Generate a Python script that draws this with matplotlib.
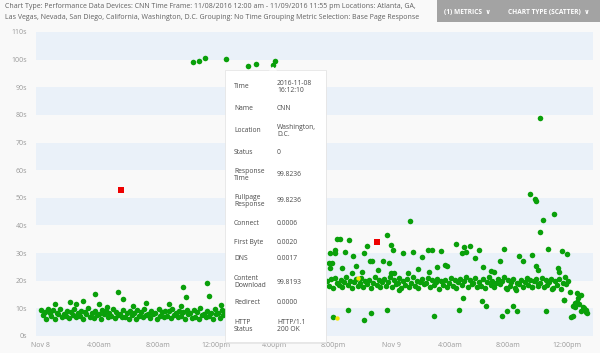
import matplotlib.pyplot as plt
from matplotlib.patches import Rectangle, Polygon

plt.rcParams['font.family'] = ['Open Sans', 'DejaVu Sans']

# ---- data (time in hours since Nov 8 00:00, response in seconds) ----
# main band, night/morning of Nov 8 (minutes)
band1_min = [0, 7, 15, 22, 29, 36, 43, 51, 58, 65,
             72, 79, 87, 94, 101, 108, 115, 123, 130, 137,
             144, 151, 159, 166, 173, 180, 187, 195, 202, 209,
             216, 223, 231, 238, 245, 252, 259, 267, 274, 281,
             288, 295, 303, 310, 317, 324, 331, 339, 346, 353,
             360, 367, 375, 382, 389, 396, 403, 411, 418, 425,
             432, 439, 447, 454, 461, 468, 475, 483, 490, 497,
             504, 511, 519, 526, 533, 540, 547, 555, 562, 569,
             576, 583, 591, 598, 605, 612, 619, 627, 634, 641,
             648, 655, 663, 670, 677, 684, 691, 699, 706, 713,
             720, 727, 735, 742, 749, 756]
band1_val = [9.4, 7.6, 8.8, 6.3, 9.9, 8.2, 7.1, 9.3, 6.0, 8.5,
             7.9, 9.6, 6.8, 8.1, 7.4, 9.0, 6.5, 8.7, 7.7, 9.8,
             6.9, 8.3, 7.2, 9.1, 6.2, 8.6, 7.9, 10.1, 7.0, 8.4,
             6.6, 9.2, 7.5, 8.0, 6.1, 9.5, 7.8, 8.9, 6.7, 8.2,
             7.3, 9.7, 6.4, 8.8, 7.6, 8.1, 6.9, 9.3, 7.0, 8.5,
             6.3, 9.0, 7.7, 8.4, 6.0, 9.4, 7.2, 8.7, 6.8, 9.9,
             7.5, 8.0, 6.5, 9.1, 7.9, 8.3, 6.2, 9.6, 7.4, 8.6,
             6.7, 9.2, 7.1, 8.9, 6.4, 9.8, 7.6, 8.2, 6.9, 9.0,
             7.3, 8.8, 6.1, 9.5, 7.8, 8.4, 6.6, 9.3, 7.0, 8.7,
             6.3, 10.2, 7.5, 8.1, 6.8, 9.1, 7.2, 8.5, 6.0, 9.7,
             7.9, 8.3, 6.5, 9.4, 7.7, 8.9]

# main band, evening of Nov 8 to Nov 9 (minutes)
band2_min = [1176, 1184, 1192, 1199, 1207, 1215, 1223, 1231, 1238, 1246,
             1254, 1262, 1270, 1277, 1285, 1293, 1301, 1309, 1316, 1324,
             1332, 1340, 1348, 1355, 1363, 1371, 1379, 1387, 1394, 1402,
             1410, 1418, 1426, 1433, 1441, 1449, 1457, 1465, 1472, 1480,
             1488, 1496, 1504, 1511, 1519, 1527, 1535, 1543, 1550, 1558,
             1566, 1574, 1582, 1589, 1597, 1605, 1613, 1621, 1628, 1636,
             1644, 1652, 1660, 1667, 1675, 1683, 1691, 1699, 1706, 1714,
             1722, 1730, 1738, 1745, 1753, 1761, 1769, 1777, 1784, 1792,
             1800, 1808, 1816, 1823, 1831, 1839, 1847, 1855, 1862, 1870,
             1878, 1886, 1894, 1901, 1909, 1917, 1925, 1933, 1940, 1948,
             1956, 1964, 1972, 1979, 1987, 1995, 2003, 2011, 2018, 2026,
             2034, 2042, 2050, 2057, 2065, 2073, 2081, 2089, 2096, 2104,
             2112, 2120, 2128, 2135, 2143, 2151, 2159, 2167]
band2_val = [19.8, 18.2, 20.6, 17.5, 21.1, 19.0, 18.6, 20.2, 17.9, 19.5,
             21.4, 18.4, 20.0, 17.2, 19.7, 20.8, 18.0, 19.3, 21.0, 17.7,
             19.9, 18.8, 20.4, 17.4, 19.1, 21.3, 18.3, 20.1, 17.8, 19.6,
             20.7, 18.1, 19.4, 21.2, 17.6, 20.3, 18.7, 19.2, 20.9, 17.3,
             19.8, 18.5, 20.5, 17.9, 19.0, 21.5, 18.2, 20.0, 17.5, 19.7,
             20.6, 18.9, 19.3, 21.1, 17.8, 20.2, 18.4, 19.6, 20.8, 17.1,
             19.9, 18.6, 20.4, 17.7, 19.2, 21.0, 18.0, 20.1, 17.4, 19.5,
             20.7, 18.3, 19.8, 21.3, 17.9, 20.3, 18.8, 19.1, 20.9, 17.6,
             19.4, 18.1, 20.6, 17.2, 19.7, 21.2, 18.5, 20.0, 17.8, 19.3,
             20.5, 18.7, 19.9, 21.4, 17.5, 20.2, 18.2, 19.6, 20.8, 17.3,
             19.0, 18.9, 20.4, 17.6, 19.5, 21.1, 18.4, 20.1, 17.9, 19.8,
             20.7, 18.0, 19.2, 21.0, 17.7, 20.3, 18.6, 19.4, 20.6, 17.4,
             19.9, 18.3, 20.5, 17.1, 19.1, 21.3, 18.8, 20.0]

# scattered points off the band (hours, seconds)
spread_hr = [0.96, 2.0, 2.4, 2.9, 3.7, 3.97, 4.5, 5.3, 5.6, 6.3, 7.2, 8.8, 9.6,
             9.7, 9.9, 11.4, 11.5, 12.3,
             10.4, 10.8, 11.2, 12.7, 14.2, 14.7, 15.9, 16.0,
             25.3, 23.7, 20.5, 21.1, 22.3, 24.0, 24.1, 28.4, 29.0, 29.4, 30.0,
             31.7, 26.5, 26.8, 27.4, 25.5, 24.8, 20.1, 20.8, 22.1, 26.1, 28.8,
             29.1, 29.7, 32.7, 33.0, 31.4, 33.6, 34.7, 35.7, 36.0, 21.4, 22.7,
             23.4, 23.8, 22.5, 21.6, 20.6, 19.9, 27.7, 27.8, 27.1, 30.3, 25.8,
             26.6, 25.1, 24.0, 24.2, 23.1, 22.0, 21.3, 30.8, 31.0, 33.9, 34.0,
             35.4, 35.5, 19.8, 20.1, 20.3, 19.7, 19.8,
             33.5, 33.8, 33.9, 35.1, 34.4, 34.2, 34.2,
             20.0, 21.0, 22.1, 22.6, 23.7, 26.9, 28.6, 28.9, 30.2, 30.5, 31.6,
             31.9, 32.3, 32.6, 34.6, 36.3, 24.5, 31.9, 32.5, 33.6, 34.0, 35.0,
             35.8, 36.7,
             36.2, 37.0, 36.8, 36.7, 36.6, 35.8, 36.4, 36.6, 37.1, 37.3, 37.4,
             37.0, 36.4, 36.85, 37.35, 37.2]
spread_val = [11.6, 12.3, 11.6, 12.7, 15.2, 11.7, 10.5, 16.0, 13.5, 11.0, 12.0,
              11.6, 10.9, 17.7, 14.0, 19.2, 14.5, 11.2,
              99.3, 99.6, 100.7, 100.4, 97.8, 98.6, 98.2, 99.6,
              41.7, 36.6, 35.1, 34.8, 32.6, 33.0, 31.2, 33.3, 32.2, 32.6, 31.2,
              31.5, 31.2, 31.2, 30.8, 30.4, 30.0, 30.0, 30.4, 30.0, 28.6, 30.0,
              30.4, 28.3, 29.0, 27.2, 27.2, 29.3, 31.5, 30.8, 29.7, 29.0, 27.2,
              27.2, 26.4, 27.2, 25.4, 24.6, 26.4, 25.7, 25.4, 25.0, 25.0, 24.3,
              23.2, 22.8, 22.8, 22.8, 23.9, 23.2, 22.8, 23.5, 23.2, 25.4, 23.9,
              24.6, 23.2, 30.0, 31.2, 35.0, 26.4, 24.6,
              51.4, 49.6, 49.0, 44.2, 42.0, 37.7, 79.0,
              6.9, 9.4, 5.8, 8.3, 9.4, 7.2, 9.4, 13.8, 12.7, 10.9, 7.2,
              9.0, 10.9, 9.0, 9.0, 6.9, 16.7, 17.0, 16.7, 17.7, 18.8, 17.0,
              13.0, 15.6,
              16.0, 14.9, 13.8, 12.3, 12.0, 13.0, 10.9, 10.5, 10.5, 9.4, 8.3,
              9.0, 7.2, 11.5, 8.8, 10.0]

red_hr = [5.5, 23.0]
red_val = [52.9, 34.1]
yellow_hr = [20.3, 21.7]
yellow_val = [6.5, 21.0]

tick_hr = [0, 4, 8, 12, 16, 20, 24, 28, 32, 36]
tick_lbl = ['Nov 8', '4:00am', '8:00am', '12:00pm', '4:00pm', '8:00pm',
            'Nov 9', '4:00am', '8:00am', '12:00pm']
y_ticks = list(range(0, 111, 10))

title_lines = ['Chart Type: Performance Data Devices: CNN Time Frame: 11/08/2016 12:00 am - 11/09/2016 11:55 pm Locations: Atlanta, GA,',
               'Las Vegas, Nevada, San Diego, California, Washington, D.C. Grouping: No Time Grouping Metric Selection: Base Page Response']

tip_labels = ['Time', 'Name', 'Location', 'Status', 'Response\nTime', 'Fullpage\nResponse',
              'Connect', 'First Byte', 'DNS', 'Content\nDownload', 'Redirect', 'HTTP\nStatus']
tip_values = ['2016-11-08\n16:12:10', 'CNN', 'Washington,\nD.C.', '0', '99.8236', '99.8236',
              '0.0006', '0.0020', '0.0017', '99.8193', '0.0000', 'HTTP/1.1\n200 OK']
tip_rows = [87, 109, 131, 153, 175, 201, 223, 242, 259, 282, 303, 326]

# ---- figure ----
W, H = 600, 353
bg = '#f9f9f9'
fig = plt.figure(figsize=(W / 100, H / 100), dpi=100, facecolor=bg)


def fx(x):
    return x / W


def fy(y):
    return 1 - y / H


ax = fig.add_axes([fx(36), fy(336), (593 - 36) / W, (336 - 32) / H])
ax.set_facecolor(bg)
for lo in range(0, 110, 20):
    ax.axhspan(lo, lo + 10, color='#eaf1f9', lw=0, zorder=0)

green = '#0aa00a'
ax.scatter([m / 60 for m in band1_min], band1_val, s=16, c=green, lw=0, zorder=3)
ax.scatter([m / 60 for m in band2_min], band2_val, s=16, c=green, lw=0, zorder=3)
ax.scatter(spread_hr, spread_val, s=16, c=green, lw=0, zorder=3)
ax.scatter(yellow_hr, yellow_val, s=10, c='#f2e600', lw=0, zorder=4)
ax.scatter(red_hr, red_val, s=20, c='#ee0000', marker='s', lw=0, zorder=4)

ax.set_xlim(-0.34, 37.8)
ax.set_ylim(0, 110)
ax.set_yticks(y_ticks)
ax.set_yticklabels([f'{v}s' for v in y_ticks])
ax.set_xticks(tick_hr)
ax.set_xticklabels(tick_lbl)
ax.tick_params(length=0, labelsize=5, colors='#9a9a9a')
ax.tick_params(axis='y', pad=6.5)
ax.tick_params(axis='x', pad=4)
for sp in ax.spines.values():
    sp.set_visible(False)

# title text
for i, line in enumerate(title_lines):
    fig.text(fx(5), fy(7 + i * 10.5), line, fontsize=5.0, color='#606060', va='center', ha='left')

# buttons
fig.add_artist(Rectangle((fx(437), fy(22)), (600 - 437) / W, 22 / H, transform=fig.transFigure,
                         facecolor='#a3a3a3', edgecolor='none', zorder=5))
fig.text(fx(444), fy(12.5), '(1) METRICS  \u2228', fontsize=4.7, color='white', fontweight='bold',
         va='center', ha='left', zorder=6)
fig.text(fx(508), fy(12.5), 'CHART TYPE (SCATTER)  \u2228', fontsize=4.7, color='white',
         fontweight='bold', va='center', ha='left', zorder=6)

# tooltip
fig.add_artist(Rectangle((fx(226), fy(344)), (327 - 226) / W, (344 - 71) / H, transform=fig.transFigure,
                         facecolor='#dddddd', edgecolor='none', zorder=7, alpha=0.6))
fig.add_artist(Rectangle((fx(225), fy(342)), (326 - 225) / W, (342 - 70) / H, transform=fig.transFigure,
                         facecolor='white', edgecolor='#e2e2e2', lw=0.5, zorder=8))
fig.add_artist(Polygon([(fx(269), fy(70.5)), (fx(273), fy(66.5)), (fx(277), fy(70.5))], closed=True,
                       transform=fig.transFigure, facecolor='white', edgecolor='none', zorder=9))
for lbl, val, y in zip(tip_labels, tip_values, tip_rows):
    fig.text(fx(234), fy(y), lbl, fontsize=4.9, color='#4a4a4a', va='center', ha='left',
             linespacing=1.1, zorder=10)
    fig.text(fx(277), fy(y), val, fontsize=4.9, color='#4a4a4a', va='center', ha='left',
             linespacing=1.1, zorder=10)

fig.savefig('out.png', dpi=100, facecolor=bg)
